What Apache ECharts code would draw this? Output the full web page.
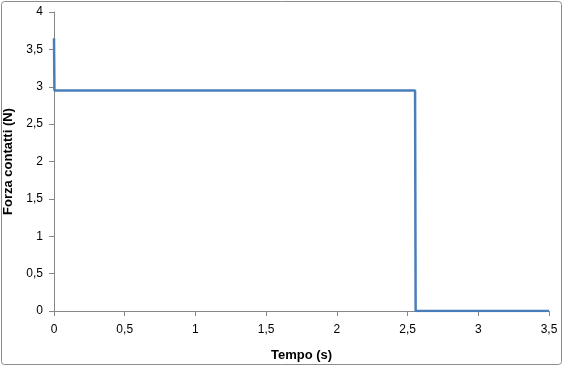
<!DOCTYPE html>
<html>
<head>
<meta charset="utf-8">
<script src="https://cdn.jsdelivr.net/npm/echarts@6/dist/echarts.min.js"></script>
<style>
  html, body { margin: 0; padding: 0; background: #fff; }
  #chart { width: 564px; height: 367px; }
</style>
</head>
<body>
<div id="chart"></div>
<script>
// dati
const tempo = [0, 0.003, 1.8, 1.805, 1.81, 2.553, 2.557, 3.5];
const forza = [3.65, 2.95, 2.95, 2.94, 2.95, 2.95, 0, 0];

const fmt = v => String(v).replace('.', ',');

const chart = echarts.init(document.getElementById('chart'));

const option = {
    animation: false,
    graphic: [{
        type: 'rect',
        shape: { x: 1.5, y: 1.5, width: 560, height: 363, r: 3 },
        style: { fill: 'none', stroke: '#8c8c8c', lineWidth: 1 }
    }],
    grid: { left: 54, right: 15, top: 12, bottom: 56, containLabel: false, outerBoundsMode: 'none' },
    xAxis: {
        type: 'value',
        min: 0, max: 3.5, interval: 0.5,
        name: 'Tempo (s)',
        nameLocation: 'middle',
        nameGap: 38,
        nameTextStyle: { fontFamily: 'Liberation Sans', fontSize: 13, fontWeight: 'bold', color: '#000' },
        axisLine: { lineStyle: { color: '#868686' } },
        axisTick: { show: true, length: 5, lineStyle: { color: '#868686' } },
        axisLabel: { formatter: fmt, fontFamily: 'Liberation Sans', fontSize: 12, color: '#000', margin: 13 },
        splitLine: { show: false }
    },
    yAxis: {
        type: 'value',
        min: 0, max: 4, interval: 0.5,
        name: 'Forza contatti (N)',
        nameLocation: 'middle',
        nameGap: 37,
        nameTextStyle: { fontFamily: 'Liberation Sans', fontSize: 13, fontWeight: 'bold', color: '#000' },
        axisLine: { show: true, lineStyle: { color: '#868686' } },
        axisTick: { show: true, length: 5, lineStyle: { color: '#868686' } },
        axisLabel: { formatter: fmt, fontFamily: 'Liberation Sans', fontSize: 12, color: '#000', margin: 11 },
        splitLine: { show: false }
    },
    series: [{
        type: 'line',
        data: tempo.map((t, i) => [t, forza[i]]),
        showSymbol: false,
        lineStyle: { color: '#4a7ebb', width: 2.5 }
    }]
};

chart.setOption(option);
</script>
</body>
</html>
